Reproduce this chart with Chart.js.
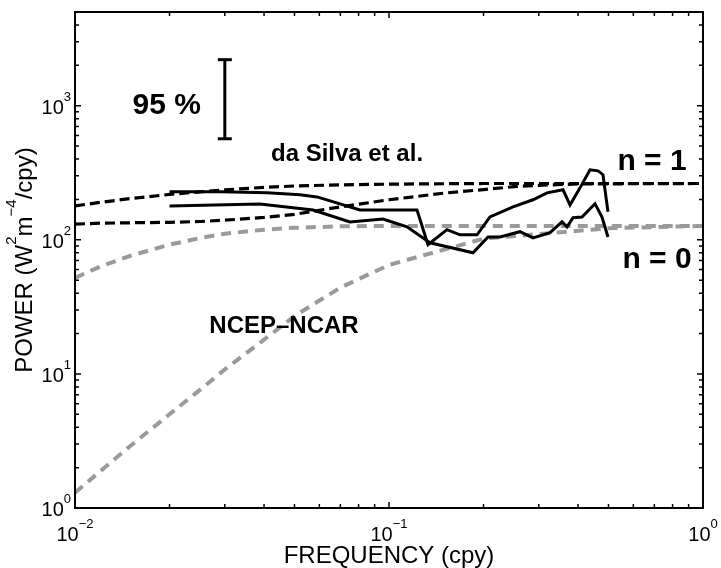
<!DOCTYPE html>
<html>
<head>
<meta charset="utf-8">
<script src="https://cdn.jsdelivr.net/npm/chart.js@4.4.1/dist/chart.umd.min.js"></script>
<style>
html, body { margin: 0; padding: 0; background: #fff; }
#wrap { width: 721px; height: 568px; position: relative; }
</style>
</head>
<body>
<div id="wrap"><canvas id="myChart"></canvas></div>
<script>
// frequency in cpy, power in W^2 m^-4 / cpy

// NCEP-NCAR model curves (grey dashed)
var ncepFreq = [0.01, 0.012, 0.015, 0.02, 0.025, 0.03, 0.04, 0.05, 0.07, 0.1, 0.2, 0.5, 1];
var ncepUpper = [52, 63, 76, 92, 103, 111, 119, 123, 126, 127, 127, 127, 127];
var ncepLower = [1.3, 1.87, 2.9, 5.0, 7.6, 10.8, 18, 27, 44, 65, 102, 122, 127];

// da Silva et al. model curves (black dashed)
var silvaFreq = [0.01, 0.012, 0.015, 0.02, 0.025, 0.03, 0.04, 0.05, 0.07, 0.1, 0.15, 0.2, 0.25, 0.3, 0.4, 1];
var silvaUpper = [179, 190, 203, 218, 228, 236, 246, 252, 257, 260, 262, 263, 263, 263, 263, 263];
var silvaLower = [131, 133, 134, 135, 137, 140, 147, 155, 176, 199, 223, 237, 249, 255, 261, 263];

// observed spectra (black solid)
var spec1Freq = [0.02, 0.029, 0.0409, 0.0521, 0.059, 0.0808, 0.1228, 0.1331, 0.153, 0.1683, 0.1907, 0.2097, 0.2483, 0.2875, 0.3185, 0.3583, 0.3771, 0.4058, 0.4366, 0.463, 0.4802, 0.4982];
var spec1Power = [228, 228, 224, 217, 209, 167, 167, 92, 119, 109, 109, 148, 176, 199, 224, 236, 182, 244, 333, 327, 306, 162];
var spec2Freq = [0.02, 0.0388, 0.0573, 0.0751, 0.0957, 0.1141, 0.1351, 0.1851, 0.2067, 0.2258, 0.2613, 0.2875, 0.3256, 0.3556, 0.3689, 0.3855, 0.4118, 0.453, 0.4767, 0.4982];
var spec2Power = [179, 185, 167, 136, 143, 125, 95, 80, 105, 105, 115, 103.5, 113, 136, 125, 146, 148, 186, 148, 105];

// 95 % confidence bar
var errFreq = [0.03, 0.03];
var errPower = [567, 2205];

var xTicks = [0.01, 0.1, 1];
var yTicks = [1, 10, 100, 1000];

function pts(xs, ys) {
    return xs.map(function (x, i) { return { x: x, y: ys[i] }; });
}

var FONT = "'Liberation Sans', Arial, Helvetica, sans-serif";

function drawPow(ctx, x, y, exp, align) {
    var base = '10';
    ctx.font = '20px ' + FONT;
    var w1 = ctx.measureText(base).width;
    ctx.font = '13px ' + FONT;
    var w2 = ctx.measureText(exp).width;
    var left = align === 'right' ? x - w1 - w2 : x - (w1 + w2) / 2;
    ctx.textAlign = 'left';
    ctx.textBaseline = 'alphabetic';
    ctx.font = '20px ' + FONT;
    ctx.fillText(base, left, y);
    ctx.font = '13px ' + FONT;
    ctx.fillText(exp, left + w1, y - 13);
}

function expText(v) {
    var e = Math.round(Math.log10(v));
    return e < 0 ? '\u2212' + (-e) : '' + e;
}

var frame = {
    id: 'frame',
    afterDatasetsDraw: function (chart) {
        var ctx = chart.ctx, a = chart.chartArea;
        var xs = chart.scales.x, ys = chart.scales.y;
        ctx.save();
        ctx.strokeStyle = '#000';
        ctx.fillStyle = '#000';

        // inward ticks on all four sides
        ctx.lineWidth = 1.5;
        ctx.beginPath();
        var d, m, v, p, len;
        for (d = -2; d < 0; d++) {
            for (m = 1; m <= 9; m++) {
                v = m * Math.pow(10, d);
                p = xs.getPixelForValue(v);
                len = m === 1 ? 6 : 4;
                ctx.moveTo(p, a.bottom); ctx.lineTo(p, a.bottom - len);
                ctx.moveTo(p, a.top); ctx.lineTo(p, a.top + len);
            }
        }
        for (d = 0; d <= 3; d++) {
            for (m = 1; m <= 9; m++) {
                v = m * Math.pow(10, d);
                if (v >= 5000) break;
                p = ys.getPixelForValue(v);
                len = m === 1 ? 6 : 4;
                ctx.moveTo(a.left, p); ctx.lineTo(a.left + len, p);
                ctx.moveTo(a.right, p); ctx.lineTo(a.right - len, p);
            }
        }
        ctx.stroke();

        ctx.lineWidth = 2;
        ctx.strokeRect(a.left, a.top, a.right - a.left, a.bottom - a.top);

        // tick labels
        xTicks.forEach(function (t) {
            drawPow(ctx, xs.getPixelForValue(t), a.bottom + 33, expText(t), 'center');
        });
        yTicks.forEach(function (t) {
            drawPow(ctx, a.left - 4, ys.getPixelForValue(t) + 8, expText(t), 'right');
        });

        // axis titles
        ctx.textAlign = 'center';
        ctx.textBaseline = 'alphabetic';
        ctx.font = '24px ' + FONT;
        ctx.fillText('FREQUENCY (cpy)', (a.left + a.right) / 2, 563);

        var parts = [['POWER (W', 0], ['2', 1], ['m', 0], ['\u22124', 1], ['/cpy)', 0]];
        var total = 0;
        parts.forEach(function (q) {
            ctx.font = (q[1] ? '15px ' : '24px ') + FONT;
            q.push(ctx.measureText(q[0]).width);
            total += q[2];
        });
        ctx.save();
        ctx.translate(23, (a.top + a.bottom) / 2);
        ctx.rotate(-Math.PI / 2);
        ctx.textAlign = 'left';
        var cx = -total / 2;
        parts.forEach(function (q) {
            ctx.font = (q[1] ? '15px ' : '24px ') + FONT;
            ctx.fillText(q[0], cx, q[1] ? -7 : 8.5);
            cx += q[2];
        });
        ctx.restore();

        // annotations placed in data coordinates
        var notes = [
            ['95 %', 0.0196, 1000, 'bold 30px '],
            ['da Silva et al.', 0.0735, 431, 'bold 24px '],
            ['n = 1', 0.688, 382, 'bold 30px '],
            ['n = 0', 0.714, 71, 'bold 30px '],
            ['NCEP\u2013NCAR', 0.0463, 22.8, 'bold 24px ']
        ];
        ctx.textAlign = 'center';
        ctx.textBaseline = 'middle';
        notes.forEach(function (n) {
            ctx.font = n[3] + FONT;
            ctx.fillText(n[0], xs.getPixelForValue(n[1]), ys.getPixelForValue(n[2]));
        });
        ctx.restore();
    }
};

var ctx = document.getElementById('myChart').getContext('2d');
var myChart = new Chart(ctx, {
    type: 'scatter',
    data: {
        datasets: [
            {
                data: pts(ncepFreq, ncepUpper),
                borderColor: '#9a9a9a', borderWidth: 4, borderDash: [10, 7],
                showLine: true, pointRadius: 0, order: 5
            },
            {
                data: pts(ncepFreq, ncepLower),
                borderColor: '#9a9a9a', borderWidth: 4, borderDash: [10, 7],
                showLine: true, pointRadius: 0, order: 5
            },
            {
                data: pts(silvaFreq, silvaUpper),
                borderColor: '#000', borderWidth: 3.2, borderDash: [10, 5],
                showLine: true, pointRadius: 0, order: 4
            },
            {
                data: pts(silvaFreq, silvaLower),
                borderColor: '#000', borderWidth: 3.2, borderDash: [10, 5],
                showLine: true, pointRadius: 0, order: 4
            },
            {
                data: pts(spec1Freq, spec1Power),
                borderColor: '#000', borderWidth: 3,
                showLine: true, pointRadius: 0, order: 1
            },
            {
                data: pts(spec2Freq, spec2Power),
                borderColor: '#000', borderWidth: 3,
                showLine: true, pointRadius: 0, order: 1
            },
            {
                data: pts(errFreq, errPower),
                borderColor: '#000', borderWidth: 3,
                showLine: true, pointStyle: 'line', pointRadius: 7,
                pointBorderWidth: 3, pointBorderColor: '#000', order: 1
            }
        ]
    },
    options: {
        responsive: true,
        maintainAspectRatio: false,
        animation: false,
        events: [],
        layout: {
            padding: { left: 75, right: 18, top: 12, bottom: 60 }
        },
        plugins: {
            legend: { display: false },
            tooltip: { enabled: false }
        },
        elements: { line: { tension: 0 } },
        scales: {
            x: { type: 'logarithmic', min: 0.01, max: 1, display: false },
            y: { type: 'logarithmic', min: 1, max: 5000, display: false }
        }
    },
    plugins: [frame]
});
</script>
</body>
</html>
